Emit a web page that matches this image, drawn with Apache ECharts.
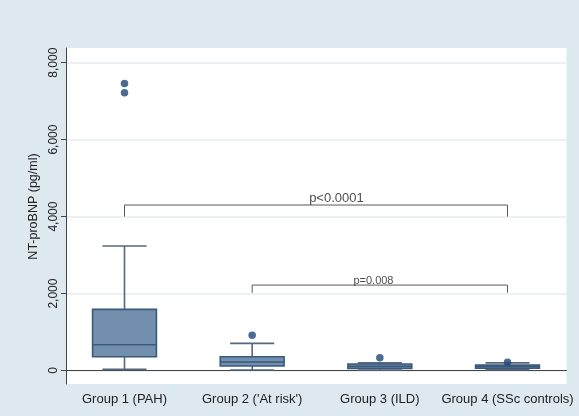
<!DOCTYPE html>
<html>
<head>
<meta charset="utf-8">
<script src="https://cdn.jsdelivr.net/npm/echarts@6/dist/echarts.min.js"></script>
<style>html,body{margin:0;padding:0;background:#dde8ef;}#c{width:579px;height:416px;}</style>
</head>
<body>
<div id="c"></div>
<script>
const categories = ['Group 1 (PAH)', "Group 2 ('At risk')", 'Group 3 (ILD)', 'Group 4 (SSc controls)'];
const boxMin = [30, 13, 15, 20];
const boxQ1 = [358, 117, 55, 60];
const boxMedian = [670, 220, 110, 100];
const boxQ3 = [1590, 358, 170, 140];
const boxMax = [3234, 706, 200, 200];
const outlierGroup = [0, 0, 1, 2, 3];
const outlierValue = [7460, 7220, 914, 330, 215];
const yTicks = [0, 2000, 4000, 6000, 8000];
const yAxisName = 'NT-proBNP (pg/ml)';
const bracketFrom = [0, 1];
const bracketTo = [3, 3];
const bracketTop = [4300, 2220];
const bracketFoot = [4000, 2020];
const bracketText = ['p<0.0001', 'p=0.008'];
const bracketTextX = [1.66, 1.95];
const bracketTextY = [4480, 2330];
const bracketTextSize = [13, 11];

const FONT = '"Liberation Sans", Arial, sans-serif';
const Y_MIN = -350, Y_MAX = 8380;

const boxData = categories.map((c, i) => [i, boxMin[i], boxQ1[i], boxMedian[i], boxQ3[i], boxMax[i]]);
const outlierData = outlierGroup.map((g, i) => [g, outlierValue[i]]);

const bracketSeries = bracketFrom.map((f, i) => ({
  type: 'line', xAxisIndex: 1, yAxisIndex: 0, symbol: 'none', silent: true,
  lineStyle: { color: '#5a5a5a', width: 1 },
  data: [[f, bracketFoot[i]], [f, bracketTop[i]], [bracketTo[i], bracketTop[i]], [bracketTo[i], bracketFoot[i]]],
  z: 3
}));
const textSeries = bracketText.map((t, i) => ({
  type: 'scatter', xAxisIndex: 1, yAxisIndex: 0, symbolSize: 0, silent: true,
  data: [[bracketTextX[i], bracketTextY[i]]],
  label: { show: true, position: 'inside', formatter: t, color: '#222', fontFamily: FONT, fontSize: bracketTextSize[i] },
  z: 4
}));

const chart = echarts.init(document.getElementById('c'), null, { renderer: 'canvas' });
chart.setOption({
  backgroundColor: '#dde8ef',
  animation: false,
  grid: [
    { left: 60.67, right: 7.67, top: 48, bottom: 32, show: false },
    { left: 66, right: 12.5, top: 48, bottom: 32, show: true, backgroundColor: '#ffffff', borderWidth: 0 }
  ],
  xAxis: [
    { type: 'category', gridIndex: 0, data: categories, boundaryGap: true,
      axisLine: { show: false }, axisTick: { show: false }, splitLine: { show: false },
      axisLabel: { interval: 0, margin: 9, color: '#222', fontFamily: FONT, fontSize: 13 } },
    { type: 'value', gridIndex: 0, min: -0.5, max: 3.5, show: false },
    { type: 'value', gridIndex: 1, min: 0, max: 1,
      axisLine: { show: true, lineStyle: { color: '#444', width: 1 } },
      axisTick: { show: false }, axisLabel: { show: false }, splitLine: { show: false } }
  ],
  yAxis: [
    { type: 'value', gridIndex: 0, min: Y_MIN, max: Y_MAX, show: false, splitLine: { show: false } },
    { type: 'value', gridIndex: 1, min: Y_MIN, max: Y_MAX,
      name: yAxisName, nameLocation: 'middle', nameGap: 25, nameRotate: 90,
      nameTextStyle: { color: '#222', fontFamily: FONT, fontSize: 12.5, padding: [0, 0, 0, 19] },
      axisLine: { show: true, lineStyle: { color: '#444', width: 1 } },
      axisTick: { show: true, length: 5, customValues: yTicks, lineStyle: { color: '#444' } },
      axisLabel: { customValues: yTicks, rotate: 90, margin: 6, color: '#222', fontFamily: FONT, fontSize: 12,
        formatter: v => Number(v).toLocaleString('en-US') },
      splitLine: { show: true, lineStyle: { color: '#e6edf2', width: 1.5 } } }
  ],
  series: [
    {
      type: 'custom', xAxisIndex: 0, yAxisIndex: 0, data: boxData, z: 2,
      renderItem: function (params, api) {
        const x = api.value(0);
        const band = api.size([1, 0])[0];
        const bw = band * 0.5, cw = band * 0.345;
        const c = api.coord([x, api.value(3)]);
        const cx = c[0];
        const yMin = api.coord([x, api.value(1)])[1];
        const yQ1 = api.coord([x, api.value(2)])[1];
        const yMed = c[1];
        const yQ3 = api.coord([x, api.value(4)])[1];
        const yMax = api.coord([x, api.value(5)])[1];
        const whisk = { stroke: '#56687a', lineWidth: 1.6, fill: null };
        const edge = { stroke: '#3b5a7b', lineWidth: 1.6 };
        return {
          type: 'group',
          children: [
            { type: 'line', shape: { x1: cx, y1: yQ3, x2: cx, y2: yMax }, style: whisk },
            { type: 'line', shape: { x1: cx, y1: yQ1, x2: cx, y2: yMin }, style: whisk },
            { type: 'line', shape: { x1: cx - cw / 2, y1: yMax, x2: cx + cw / 2, y2: yMax }, style: whisk },
            { type: 'line', shape: { x1: cx - cw / 2, y1: yMin, x2: cx + cw / 2, y2: yMin }, style: whisk },
            { type: 'rect', shape: { x: cx - bw / 2, y: yQ3, width: bw, height: Math.max(yQ1 - yQ3, 1) },
              style: { fill: '#728fae', stroke: '#3b5a7b', lineWidth: 1.6 } },
            { type: 'line', shape: { x1: cx - bw / 2, y1: yMed, x2: cx + bw / 2, y2: yMed }, style: edge }
          ]
        };
      }
    },
    {
      type: 'scatter', xAxisIndex: 0, yAxisIndex: 0, data: outlierData, symbol: 'circle', symbolSize: 7.5,
      itemStyle: { color: '#1d4777' }, z: 3
    },
    ...bracketSeries,
    ...textSeries
  ]
});
</script>
</body>
</html>
